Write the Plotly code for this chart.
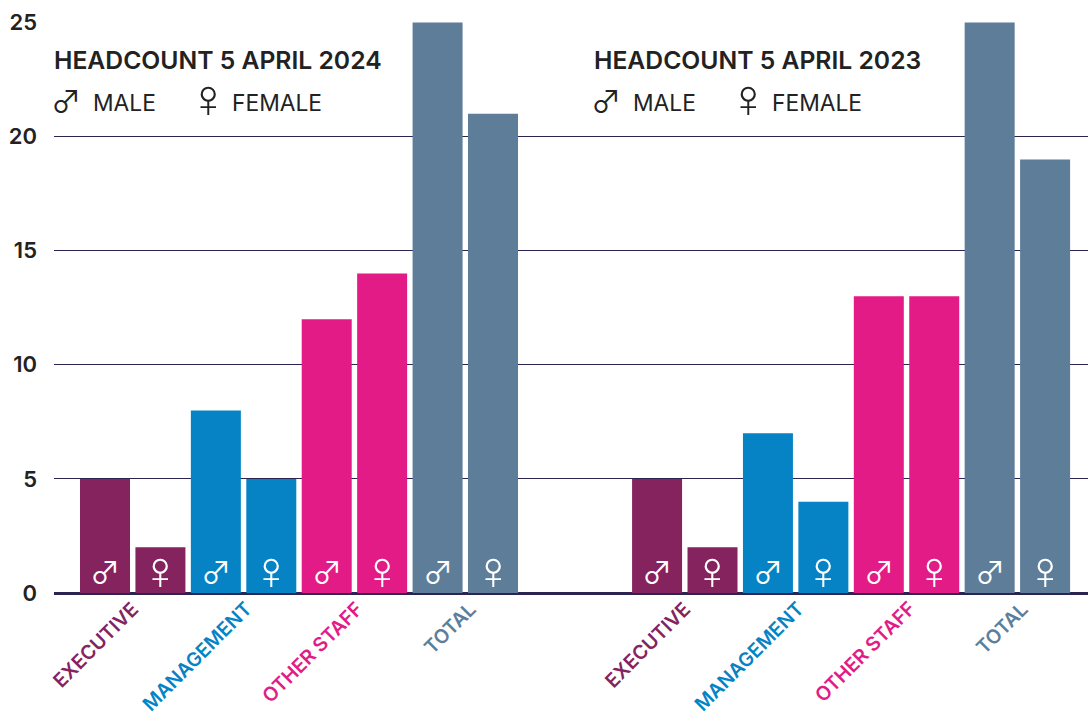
import plotly.graph_objects as go

W, H = 1088, 713
L, T, B = 54, 22, 120

FONT = "Inter"
MALE_FONT = "Noto Sans CJK JP"
FEMALE_FONT = "Liberation Sans"
INK = "#222222"
GRID = "#2b2350"

# data
categories = ["EXECUTIVE", "MANAGEMENT", "OTHER STAFF", "TOTAL"]
male_2024 = [5, 8, 12, 25]
female_2024 = [2, 5, 14, 21]
male_2023 = [5, 7, 13, 25]
female_2023 = [2, 4, 13, 19]
titles = ["HEADCOUNT 5 APRIL 2024", "HEADCOUNT 5 APRIL 2023"]
cat_colors = ["#85235f", "#0583c5", "#e31b86", "#5e7d99"]
y_ticks = [0, 5, 10, 15, 20, 25]
MALE, FEMALE = "\u2642", "\u2640"
label_shift = [13, 16, 16, 18]

xs, ys, cols, syms = [], [], [], []
for offset, male, female in [(0, male_2024, female_2024), (9.96, male_2023, female_2023)]:
    for i in range(len(categories)):
        xs += [offset + 2 * i, offset + 2 * i + 1]
        ys += [male[i], female[i]]
        cols += [cat_colors[i]] * 2
        syms += [MALE, FEMALE]

fig = go.Figure(go.Bar(
    x=xs, y=ys, width=0.902, marker=dict(color=cols, line=dict(width=0)),
    cliponaxis=True, hoverinfo="skip",
))

def px(x):
    return (x - L) / (W - L)

def py(y):
    return 1 - (y - T) / (H - T - B)

ann = []
for xv, s in zip(xs, syms):
    is_m = s == MALE
    ann.append(dict(x=xv, y=0, xref="x", yref="y", text=s, showarrow=False,
                    xanchor="center", yanchor="middle", yshift=23,
                    font=dict(family=MALE_FONT if is_m else FEMALE_FONT, size=30 if is_m else 54, color="white")))
for offset, tx, title in [(0, L, titles[0]), (9.96, 594, titles[1])]:
    for i, c in enumerate(categories):
        ann.append(dict(x=offset + 2 * i + 0.5, y=0, xref="x", yref="y", text=c, showarrow=False,
                        textangle=-45, xanchor="right", yanchor="top", xshift=label_shift[i], yshift=-1,
                        font=dict(family=FONT, size=19.5, color=cat_colors[i], weight=600)))
    ann.append(dict(x=px(tx - 2), y=py(60), xref="paper", yref="paper", text=title, showarrow=False,
                    xanchor="left", yanchor="middle", font=dict(family=FONT, size=24.7, color=INK, weight=600)))
    ann.append(dict(x=px(tx + 12), y=py(99), xref="paper", yref="paper", text=MALE, showarrow=False,
                    xanchor="center", yanchor="middle", font=dict(family=MALE_FONT, size=30, color=INK)))
    ann.append(dict(x=px(tx + 37), y=py(102), xref="paper", yref="paper", text="MALE", showarrow=False,
                    xanchor="left", yanchor="middle", font=dict(family=FONT, size=22.8, color=INK)))
    ann.append(dict(x=px(tx + 154), y=py(98), xref="paper", yref="paper", text=FEMALE, showarrow=False,
                    xanchor="center", yanchor="middle", font=dict(family=FEMALE_FONT, size=54, color=INK)))
    ann.append(dict(x=px(tx + 176), y=py(102), xref="paper", yref="paper", text="FEMALE", showarrow=False,
                    xanchor="left", yanchor="middle", font=dict(family=FONT, size=22.8, color=INK)))

fig.update_layout(
    width=W, height=H, margin=dict(l=L, r=0, t=T, b=B, autoexpand=False),
    paper_bgcolor="white", plot_bgcolor="white", showlegend=False,
    annotations=ann,
    xaxis=dict(range=[-0.920, 17.734], showgrid=False, showticklabels=False, ticks="", zeroline=False,
               showline=False, fixedrange=True),
    yaxis=dict(range=[0, 25.02], tickvals=y_ticks, showgrid=True, gridcolor=GRID, gridwidth=1,
               zeroline=True, zerolinecolor=GRID, zerolinewidth=3, showline=False, ticks="",
               ticklabelstandoff=16, tickfont=dict(family=FONT, size=22, color=INK, weight=600),
               fixedrange=True),
)
fig.write_html("out.html", config=dict(displayModeBar=False),
               post_script="document.body.style.margin='0';window.dispatchEvent(new Event('resize'));")
